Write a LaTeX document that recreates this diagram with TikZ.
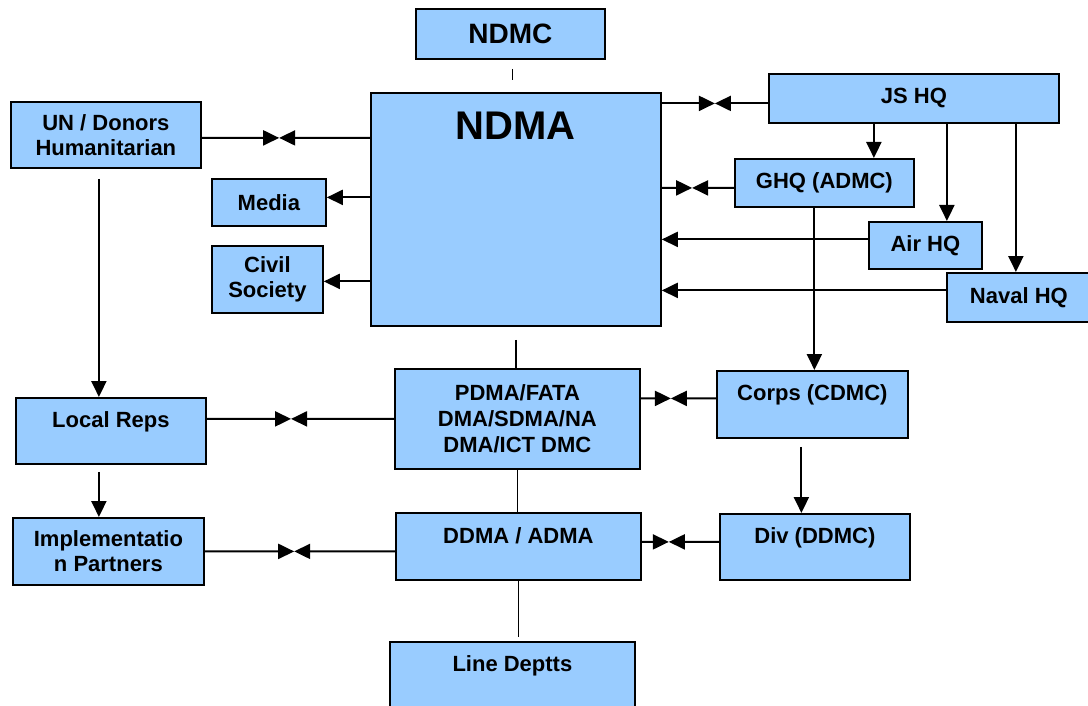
\documentclass[tikz,border=0pt]{standalone}
\usepackage{fontspec}
\setmainfont{Liberation Sans}
\usepackage{xcolor}
\usetikzlibrary{arrows.meta,calc}
\definecolor{boxblue}{HTML}{99CCFF}

\begin{document}
\begin{tikzpicture}[
        x=1pt, y=-1pt,
        block/.style={rectangle, draw, line width=1.8pt, fill=boxblue, anchor=north west, inner sep=0pt, align=center, font=\bfseries\fontsize{22}{25}\selectfont},
        arrow/.style={line width=2.1pt, -{Triangle[length=16pt, width=15pt]}},
        link/.style={line width=1.6pt}
    ]
        \fill[white] (0,0) rectangle (1088,706);
        \useasboundingbox (0,0) rectangle (1088,706);

        \node[block, minimum width=189, minimum height=50, font=\bfseries\fontsize{28}{32}\selectfont] (ndmc) at (415,8) {NDMC};
        \node[block, minimum width=290, minimum height=233, text height=47, text depth=186, font=\bfseries\fontsize{40}{46}\selectfont] (ndma) at (370,92) {NDMA};
        \node[block, minimum width=190, minimum height=66] (un) at (10,101) {UN / Donors\\Humanitarian};
        \node[block, minimum width=114, minimum height=47] (media) at (211,178) {Media};
        \node[block, minimum width=111, minimum height=67] (civil) at (211,245) {Civil\\Society};
        \node[block, minimum width=290, minimum height=49] (jshq) at (768,73) {JS HQ};
        \node[block, minimum width=179, minimum height=48] (ghq) at (734,158) {GHQ (ADMC)};
        \node[block, minimum width=113, minimum height=47] (airhq) at (868,221) {Air HQ};
        \node[block, minimum width=144, minimum height=49] (navalhq) at (946,272) {Naval HQ};
        \node[block, minimum width=190, minimum height=66, text height=30, text depth=36] (localreps) at (15,397) {Local Reps};
        \node[block, minimum width=191, minimum height=67] (impl) at (12,517) {Implementatio\\n Partners};
        \node[block, minimum width=245, minimum height=100, font=\bfseries\fontsize{22}{26}\selectfont] (pdma) at (394,368) {PDMA/FATA\\DMA/SDMA/NA\\DMA/ICT DMC};
        \node[block, minimum width=191, minimum height=67, text height=30, text depth=37] (corps) at (716,370) {Corps (CDMC)};
        \node[block, minimum width=245, minimum height=67, text height=31, text depth=36] (ddma) at (395,512) {DDMA / ADMA};
        \node[block, minimum width=190, minimum height=66, text height=30, text depth=36] (div) at (719,513) {Div (DDMC)};
        \node[block, minimum width=245, minimum height=70, text height=30, text depth=40] (linedeptts) at (389,641) {Line Deptts};

        % NDMA and the left side
        \coordinate (unout) at ($(un.east)+(0,3)$);
        \coordinate (tieun) at ($(unout)!0.46!(unout -| ndma.west)$);
        \draw[arrow] (unout) -- (tieun);
        \draw[arrow] (unout -| ndma.west) -- (tieun);
        \coordinate (mediain) at ($(media.east)+(0,-5)$);
        \draw[arrow] (mediain -| ndma.west) -- (mediain);
        \coordinate (civilin) at ($(civil.east)+(0,2)$);
        \draw[arrow] (civilin -| ndma.west) -- (civilin);

        % armed forces side
        \coordinate (jsout) at ($(jshq.west)+(0,5)$);
        \coordinate (tiejs) at ($(jsout)!0.5!(jsout -| ndma.east)$);
        \draw[arrow] (jsout) -- (tiejs);
        \draw[arrow] (jsout -| ndma.east) -- (tiejs);
        \coordinate (ghqout) at ($(ghq.west)+(0,5)$);
        \coordinate (tieghq) at ($(ghqout)!0.58!(ghqout -| ndma.east)$);
        \draw[arrow] (ghqout) -- (tieghq);
        \draw[arrow] (ghqout -| ndma.east) -- (tieghq);
        \coordinate (airout) at ($(airhq.west)+(0,-6)$);
        \draw[arrow] (airout) -- (airout -| ndma.east);
        \coordinate (navalout) at ($(navalhq.west)+(0,-7)$);
        \draw[arrow] (navalout) -- (navalout -| ndma.east);

        \coordinate (js1) at ($(jshq.south)+(-40,0)$);
        \draw[arrow] (js1) -- (js1 |- ghq.north);
        \coordinate (js2) at ($(jshq.south)+(33,0)$);
        \draw[arrow] (js2) -- (js2 |- airhq.north);
        \coordinate (js3) at ($(jshq.south)+(102,0)$);
        \draw[arrow] (js3) -- (js3 |- navalhq.north);
        \coordinate (ghqdown) at ($(ghq.south)+(-10,0)$);
        \draw[arrow] (ghqdown) -- (ghqdown |- corps.north);
        \coordinate (corpsdown) at ($(corps.south)+(-11,8)$);
        \draw[arrow] (corpsdown) -- (corpsdown |- div.north);

        % local chain
        \coordinate (undown) at ($(un.south)+(-7,10)$);
        \draw[arrow] (undown) -- (undown |- localreps.north);
        \coordinate (repsdown) at ($(localreps.south)+(-12,7)$);
        \draw[arrow] (repsdown) -- (repsdown |- impl.north);

        \coordinate (tiereps) at ($(pdma.west -| localreps.east)!0.45!(pdma.west)$);
        \draw[arrow] (pdma.west -| localreps.east) -- (tiereps);
        \draw[arrow] (pdma.west) -- (tiereps);
        \coordinate (corpsout) at ($(corps.west)+(0,-6)$);
        \coordinate (tiecorps) at ($(corpsout -| pdma.east)!0.4!(corpsout)$);
        \draw[arrow] (corpsout -| pdma.east) -- (tiecorps);
        \draw[arrow] (corpsout) -- (tiecorps);
        \coordinate (tieimpl) at ($(impl.east)!0.47!(impl.east -| ddma.west)$);
        \draw[arrow] (impl.east) -- (tieimpl);
        \draw[arrow] (impl.east -| ddma.west) -- (tieimpl);
        \coordinate (divout) at ($(div.west)+(0,-5)$);
        \coordinate (tiediv) at ($(divout -| ddma.east)!0.35!(divout)$);
        \draw[arrow] (divout -| ddma.east) -- (tiediv);
        \draw[arrow] (divout) -- (tiediv);

        % plain links down the middle
        \coordinate (ndmcdown) at ($(ndmc.south)+(2,9)$);
        \draw[link] (ndmcdown) -- ($(ndmcdown |- ndma.north)+(0,-12)$);
        \draw[link] ($(ndma.south)+(0,13)$) -- (ndma.south |- pdma.north);
        \draw[link] (pdma.south) -- (pdma.south |- ddma.north);
        \draw[link] (ddma.south) -- ($(ddma.south |- linedeptts.north)+(0,-4)$);
    \end{tikzpicture}
\end{document}
